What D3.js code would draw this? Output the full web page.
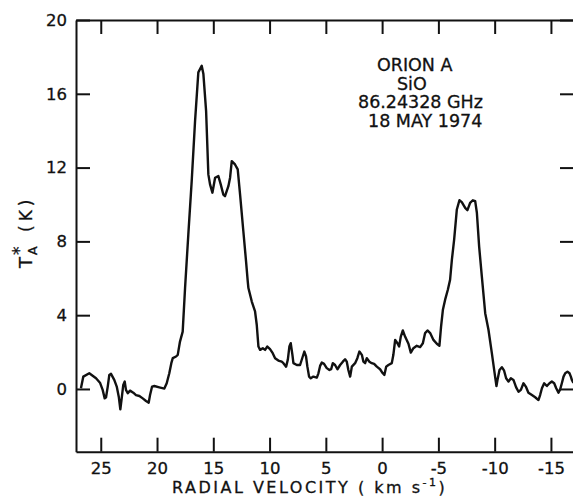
<!DOCTYPE html>
<html>
<head>
<meta charset="utf-8">
<script src="https://cdn.jsdelivr.net/npm/d3@7"></script>
<style>
    body{margin:0;background:#fff;}
    svg{display:block;}
</style>
</head>
<body>
<div id="chart"></div>
<script>
// SiO spectrum of Orion A, 18 May 1974
var velocity=[
    26.76,26.55,26.02,25.42,25.07,24.83,24.65,24.53,24.38,24.24,
    24.09,23.80,23.58,23.40,23.26,23.14,23.00,22.87,22.76,22.60,
    22.40,22.11,21.87,21.57,21.27,20.98,20.74,20.62,20.44,20.24,
    19.80,19.35,19.14,18.91,18.73,18.60,18.31,18.16,17.96,17.72,
    17.51,17.22,16.92,16.62,16.33,16.03,15.88,15.64,15.44,15.29,
    15.08,14.84,14.55,14.34,14.11,13.96,13.66,13.51,13.36,13.07,
    12.83,12.62,12.33,12.09,11.94,11.88,11.58,11.29,11.14,10.99,
    10.84,10.60,10.40,10.20,9.96,9.72,9.51,9.22,8.92,8.77,
    8.53,8.38,8.24,8.12,7.97,7.88,7.58,7.29,7.05,6.91,
    6.76,6.64,6.49,6.34,6.11,5.80,5.66,5.51,5.36,5.16,
    4.92,4.68,4.53,4.38,4.18,3.97,3.73,3.49,3.29,3.14,
    3.00,2.84,2.69,2.40,2.20,2.02,1.80,1.66,1.51,1.36,
    1.13,0.92,0.71,0.47,0.18,-0.06,-0.20,-0.36,-0.56,-0.86,
    -1.00,-1.16,-1.36,-1.51,-1.66,-1.84,-2.04,-2.34,-2.55,-2.78,
    -3.08,-3.38,-3.62,-3.82,-4.03,-4.27,-4.56,-4.86,-5.09,-5.24,
    -5.40,-5.60,-5.84,-6.04,-6.20,-6.40,-6.64,-6.87,-7.08,-7.38,
    -7.58,-7.82,-8.06,-8.27,-8.42,-8.62,-8.86,-9.16,-9.45,-9.75,
    -10.04,-10.16,-10.25,-10.43,-10.64,-10.84,-11.02,-11.23,-11.44,-11.67,
    -11.91,-12.12,-12.33,-12.56,-12.77,-13.00,-13.31,-13.60,-13.89,-14.04,
    -14.20,-14.40,-14.64,-14.87,-15.08,-15.29,-15.47,-15.67,-15.82,-15.97,
    -16.12,-16.27,-16.47,-16.65,-16.77,-16.86,-17.00
];
var antennaTemp=[
    0.04,0.67,0.85,0.58,0.34,-0.05,-0.51,-0.45,0.13,0.76,
    0.82,0.49,0.13,-0.42,-1.10,-0.51,0.22,0.40,-0.05,-0.23,
    -0.09,-0.20,-0.33,-0.38,-0.51,-0.65,-0.74,-0.33,0.13,0.16,
    0.09,0.02,0.31,0.85,1.40,1.67,1.76,1.85,2.57,3.11,
    5.47,8.37,11.27,14.53,17.16,17.52,17.07,15.07,11.63,11.09,
    10.64,11.45,11.54,11.09,10.54,10.45,10.99,11.45,12.35,12.17,
    11.90,10.54,8.55,6.92,5.83,5.47,4.74,4.20,3.48,2.30,
    2.12,2.21,2.12,2.30,2.16,1.94,1.67,1.54,1.48,1.40,
    1.21,1.58,2.30,2.48,1.85,1.40,1.30,1.30,1.76,2.03,
    1.76,1.21,0.67,0.58,0.67,0.61,0.85,1.25,1.43,1.36,
    1.13,1.03,1.07,1.40,1.30,1.07,1.30,1.48,1.61,1.48,
    1.03,0.67,1.21,1.40,1.67,2.03,1.85,1.48,1.40,1.67,
    1.48,1.40,1.36,1.21,1.07,0.85,0.76,1.21,1.30,1.40,
    1.85,2.66,2.48,2.30,2.84,3.17,2.84,2.45,1.97,2.21,
    2.34,2.27,2.48,3.03,3.17,3.03,2.66,2.45,2.34,3.39,
    4.29,4.84,5.38,5.92,7.01,8.10,9.73,10.23,10.13,9.82,
    9.69,10.09,10.23,10.18,9.55,7.73,6.10,4.11,3.21,1.94,
    0.67,0.16,0.49,1.03,1.18,0.99,0.58,0.40,0.58,0.49,
    0.09,-0.15,-0.05,0.31,0.13,-0.20,-0.33,-0.45,-0.60,-0.33,
    0.04,0.31,0.16,0.31,0.40,0.31,0.04,-0.20,-0.02,0.31,
    0.67,0.85,0.94,0.85,0.67,0.49,0.33
];
var velocityTicks=[25,20,15,10,5,0,-5,-10,-15];
var tempTicks=[0,4,8,12,16,20];
var velocityRange=[27.2,-17.05];
var tempRange=[-3.4,20];
var annotationLines=['ORION A','SiO','86.24328 GHz','18 MAY 1974'];
var xTitle='RADIAL VELOCITY ( km s';
var xTitleSup='-1';

function drawSpectrum(){
    var width=573;
    var height=497;
    var left=76;
    var right=574;
    var top=20;
    var bottom=451.7;
    var family='DejaVu Sans';
    var stroke='#111';

    var svg=d3.select('#chart').append('svg')
        .attr('width',width)
        .attr('height',height)
        .style('background','#fff');

    var x=d3.scaleLinear().domain(velocityRange).range([left,right]);
    var y=d3.scaleLinear().domain(tempRange).range([bottom,top]);

    var fmt=function(d){return String(d);};
    var axes=[
        {axis:d3.axisBottom(x).tickValues(velocityTicks).tickFormat(fmt).tickPadding(11),at:'translate(0,'+bottom+')'},
        {axis:d3.axisTop(x).tickValues(velocityTicks).tickFormat(''),at:'translate(0,'+top+')'},
        {axis:d3.axisLeft(y).tickValues(tempTicks).tickFormat(fmt).tickPadding(9),at:'translate('+left+',0)'},
        {axis:d3.axisRight(y).tickValues(tempTicks).tickFormat(''),at:'translate('+right+',0)'}
    ];
    axes.forEach(function(a){
        var g=svg.append('g')
            .attr('transform',a.at)
            .call(a.axis.tickSizeInner(-14).tickSizeOuter(0));
        g.select('.domain').attr('stroke',stroke).attr('stroke-width',2);
        g.selectAll('.tick line').attr('stroke',stroke).attr('stroke-width',2);
        g.selectAll('.tick text')
            .attr('fill',stroke)
            .attr('stroke',stroke)
            .attr('stroke-width',0.3)
            .style('font-family',family)
            .style('font-size','16.5px');
    });

    // the spectrum trace
    var points=d3.zip(velocity,antennaTemp);
    var line=d3.line()
        .x(function(d){return x(d[0]);})
        .y(function(d){return y(d[1]);});
    svg.append('path')
        .datum(points)
        .attr('d',line)
        .attr('fill','none')
        .attr('stroke',stroke)
        .attr('stroke-width',2.4)
        .attr('stroke-linejoin','round');

    // label block upper right
    var annX=[377,397,358,368];
    svg.append('g').selectAll('text')
        .data(annotationLines)
        .enter()
        .append('text')
        .attr('x',function(d,i){return annX[i];})
        .attr('y',function(d,i){return 71+i*18.7;})
        .style('font-family',family)
        .style('font-size','17.5px')
        .attr('fill',stroke)
        .attr('stroke',stroke)
        .attr('stroke-width',0.3)
        .text(function(d){return d;});

    // x title
    var xt=svg.append('text')
        .attr('x',172)
        .attr('y',493)
        .style('font-family',family)
        .style('font-size','16px')
        .style('letter-spacing','2.5px')
        .attr('fill',stroke)
        .attr('stroke',stroke)
        .attr('stroke-width',0.3);
    xt.append('tspan').text(xTitle);
    xt.append('tspan').attr('dy',-7).style('font-size','11px').text(xTitleSup);
    xt.append('tspan').attr('dy',7).text(')');

    // y title, T*A (K)
    var yt=svg.append('g')
        .attr('transform','translate(32,268) rotate(-90)')
        .style('font-family',family)
        .attr('fill',stroke)
        .attr('stroke',stroke)
        .attr('stroke-width',0.3);
    yt.append('text').attr('x',0).attr('y',0).style('font-size','18px').text('T');
    yt.append('text').attr('x',13).attr('y',-7).style('font-size','17px').text('*');
    yt.append('text').attr('x',13).attr('y',5).style('font-size','12.5px').text('A');
    yt.append('text').attr('x',36).attr('y',0).style('font-size','17px').style('letter-spacing','4px').text('(K)');
}

drawSpectrum();
</script>
</body>
</html>
